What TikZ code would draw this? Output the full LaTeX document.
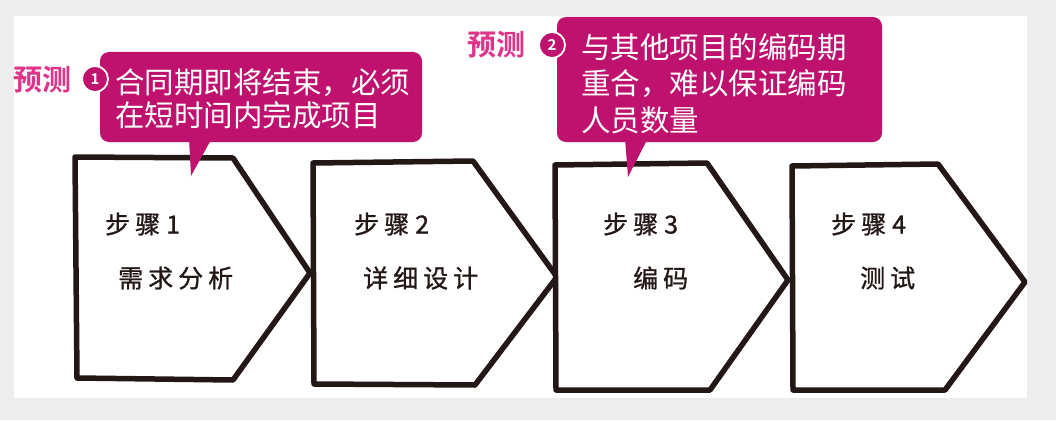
\documentclass[tikz,border=0pt]{standalone}
\usepackage{fontspec}
\newfontfamily\cjk{Noto Sans CJK SC}
\newfontfamily\cjkbold{Noto Sans CJK SC Bold}
\newfontfamily\stepfont[LetterSpace=20,FakeBold=1.0]{Noto Sans CJK SC}
\definecolor{bgray}{HTML}{EDECEE}
\definecolor{mag}{HTML}{BE126E}
\definecolor{pinktxt}{HTML}{E0338A}
\definecolor{ink}{HTML}{231815}
\begin{document}
\begin{tikzpicture}[x=1pt,y=-1pt,
  stepshape/.style={draw=ink,line width=5.5pt,line join=round,fill=white},
  steptxt/.style={font=\stepfont\fontsize{25}{27}\selectfont,text=ink,inner sep=0pt,anchor=west},
  callout/.style={fill=mag,rounded corners=9pt},
  calltxt/.style={text=white,inner sep=0pt,anchor=north west,align=left},
  predtxt/.style={font=\cjkbold\fontsize{29}{29}\selectfont,text=pinktxt,inner sep=0pt,anchor=west},
  numcirc/.style={circle,fill=mag,draw=white,line width=1.8pt,minimum size=26pt,inner sep=0pt,text=white,font=\cjkbold\fontsize{15}{15}\selectfont}
]
\useasboundingbox (0,0) rectangle (1056,420);
\fill[bgray] (0,0) rectangle (1056,420);
\fill[white] (14,16) rectangle (1027,398);

% step shapes
\draw[stepshape] (75,157) -- (233,158) -- (310,273) -- (233,380) -- (77,378) -- cycle;
\draw[stepshape] (313,163) -- (473,161) -- (557,277) -- (475,385) -- (314,384) -- cycle;
\draw[stepshape] (555,165) -- (707,163) -- (788,280) -- (710,390) -- (556,390) -- cycle;
\draw[stepshape] (792,166) -- (938,164) -- (1025,282) -- (945,390) -- (793,390) -- cycle;

\node[steptxt] (s1) at (105,224) {步骤\hspace{6pt}1};
\node[steptxt] (n1) at (118,278) {需求分析};
\node[steptxt] (s2) at (354,224) {步骤\hspace{6pt}2};
\node[steptxt] (n2) at (363,278) {详细设计};
\node[steptxt] (s3) at (603,224) {步骤\hspace{6pt}3};
\node[steptxt] (n3) at (633,278) {编码};
\node[steptxt] (s4) at (831,224) {步骤\hspace{6pt}4};
\node[steptxt] (n4) at (860,278) {测试};

% callout 1
\fill[callout] (100,52) rectangle (422,142);
\fill[mag] (189,138) -- (212,138) -- (191,176) -- cycle;
\node[calltxt,font=\cjk\fontsize{29.5}{33}\selectfont] (c1) at (115,68) {合同期即将结束，必须\\在短时间内完成项目};
\node[predtxt] (p1) at (13,80) {预测};
\node[numcirc] (k1) at (95,79) {1};

% callout 2
\fill[callout] (557,17) rectangle (882,142);
\fill[mag] (625,138) -- (648,138) -- (628,177) -- cycle;
\node[calltxt,font=\cjk\fontsize{29.5}{36.5}\selectfont] (c2) at (581,33) {与其他项目的编码期\\重合，难以保证编码\\人员数量};
\node[predtxt] (p2) at (467,45) {预测};
\node[numcirc] (k2) at (552,45) {2};
\end{tikzpicture}
\end{document}
